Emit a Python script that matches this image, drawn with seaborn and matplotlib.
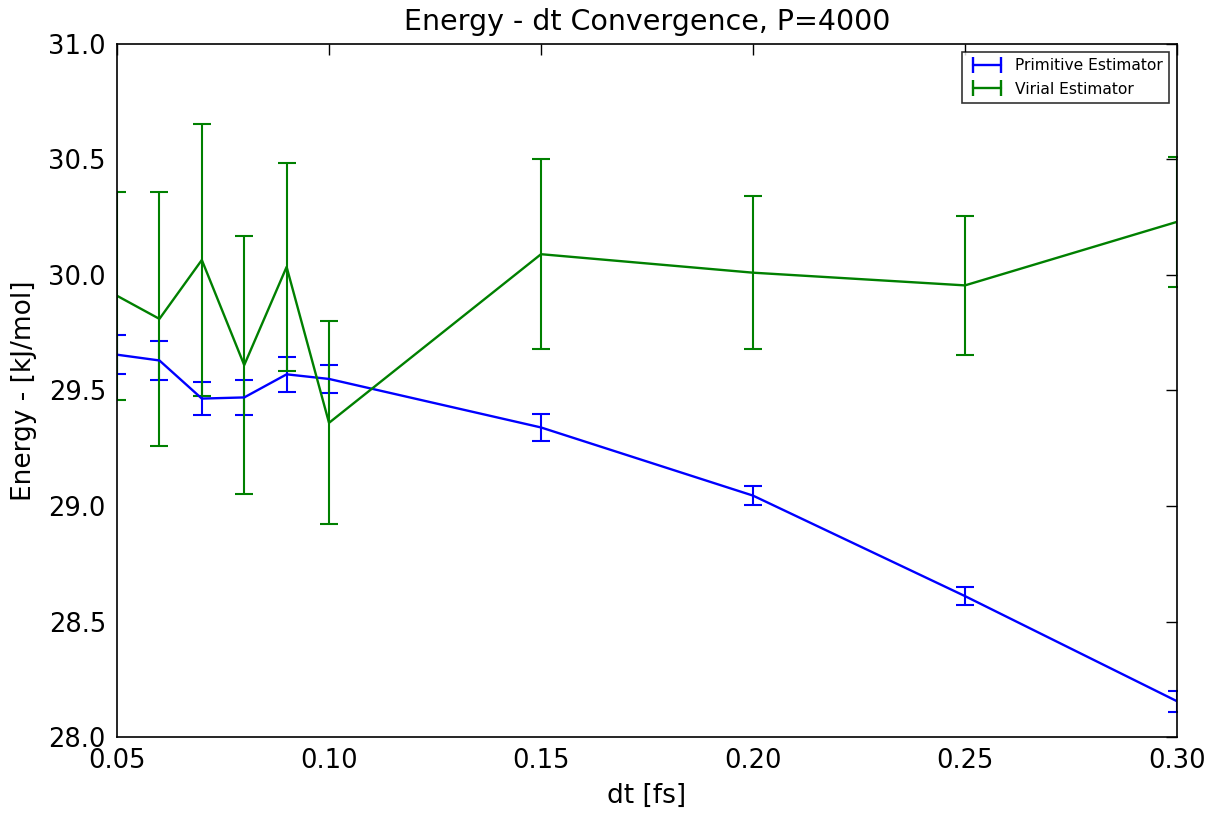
import matplotlib
matplotlib.use("Agg")
import matplotlib.pyplot as plt
from matplotlib.lines import Line2D
import seaborn as sns
import pandas as pd

dt = [0.05, 0.06, 0.07, 0.08, 0.09, 0.10, 0.15, 0.20, 0.25, 0.30]
prim = [29.655, 29.63, 29.465, 29.47, 29.57, 29.55, 29.34, 29.045, 28.61, 28.155]
prim_err = [0.085, 0.085, 0.07, 0.075, 0.075, 0.06, 0.06, 0.04, 0.04, 0.045]
vir = [29.91, 29.81, 30.065, 29.61, 30.035, 29.36, 30.09, 30.01, 29.955, 30.23]
vir_err = [0.45, 0.55, 0.59, 0.56, 0.45, 0.44, 0.41, 0.33, 0.30, 0.28]
labels = ["Primitive Estimator", "Virial Estimator"]

sns.set_style("white", {"xtick.direction": "in", "ytick.direction": "in",
                        "axes.edgecolor": "black", "text.color": "black",
                        "axes.labelcolor": "black", "xtick.color": "black",
                        "ytick.color": "black"})
plt.rcParams['font.family'] = ['DejaVu Sans']

fig = plt.figure(figsize=(12.09, 8.16), dpi=100)
ax = fig.add_axes([0.0968, 0.0968, 0.8767, 0.8493])

df = pd.DataFrame({"dt": dt + dt, "E": prim + vir,
                   "est": [labels[0]] * len(dt) + [labels[1]] * len(dt)})

ax.errorbar(dt, prim, yerr=prim_err, color="b", capsize=6.5, capthick=1.5, elinewidth=1.5,
            fmt="none")
ax.errorbar(dt, vir, yerr=vir_err, color="g", capsize=6.5, capthick=1.5, elinewidth=1.5,
            fmt="none")
sns.lineplot(data=df, x="dt", y="E", hue="est", palette={labels[0]: "b", labels[1]: "g"},
             ax=ax, legend=False, lw=1.7)

ax.set_xlim(0.05, 0.30)
ax.set_ylim(28.0, 31.0)
ax.set_xticks([0.05, 0.10, 0.15, 0.20, 0.25, 0.30])
ax.set_yticks([28.0, 28.5, 29.0, 29.5, 30.0, 30.5, 31.0])
ax.xaxis.set_major_formatter(matplotlib.ticker.FormatStrFormatter("%.2f"))
ax.yaxis.set_major_formatter(matplotlib.ticker.FormatStrFormatter("%.1f"))
ax.tick_params(axis="both", which="major", direction="in", length=8, width=1,
               top=True, right=True, labelsize=18.5, pad=8)
for s in ax.spines.values():
    s.set_linewidth(1.2)
    s.set_color("black")

ax.set_title("Energy - dt Convergence, P=4000", fontsize=20.5, pad=10)
ax.set_xlabel("dt [fs]", fontsize=19, labelpad=6)
ax.set_ylabel("Energy - [kJ/mol]", fontsize=19, labelpad=8)

handles = [Line2D([0], [0], color="b", lw=1.7, marker="|", markersize=11, markeredgewidth=1.7),
           Line2D([0], [0], color="g", lw=1.7, marker="|", markersize=11, markeredgewidth=1.7)]
leg = ax.legend(handles, labels, loc="upper right", fontsize=11.2, fancybox=False,
                frameon=True, borderaxespad=0.5, handlelength=2.4, numpoints=2,
                borderpad=0.4, labelspacing=0.55, handletextpad=0.6)
leg.get_frame().set_edgecolor("black")
leg.get_frame().set_linewidth(1.2)

fig.savefig("out.png", dpi=100, facecolor="white")
